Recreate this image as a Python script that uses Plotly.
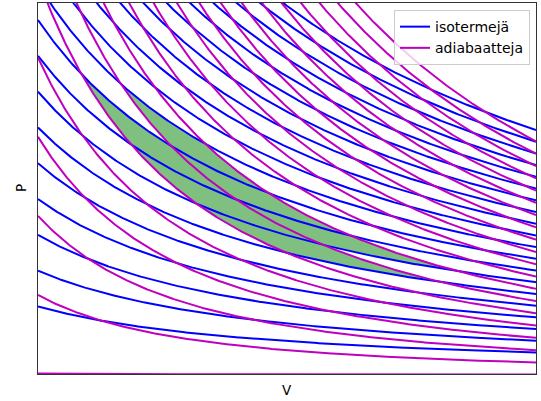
import numpy as np
import plotly.graph_objects as go

# ---- data ----
V_RANGE = [1.0, 3.058]
P_RANGE = [0.008, 3.718]
GAMMA = 5.0 / 3.0
isotherm_T = [0.683, 1.041, 1.399, 1.757, 2.115, 2.473, 2.831, 3.189, 3.547, 3.905,
              4.263, 4.621, 4.979, 5.337, 5.695, 6.053, 6.411, 6.769, 7.127, 7.485]
adiabat_K = [0.012, 0.798, 1.589, 2.380, 3.171, 3.962, 4.753, 5.544, 6.335, 7.126,
             7.917, 8.708, 9.499, 10.290, 11.081, 11.872, 12.663, 13.454, 14.245, 15.036]
# shaded cycles: (hot isotherm, cold isotherm, first adiabat, second adiabat)
cycles = [(3.547, 2.473, 3.962, 4.753),
          (3.905, 2.831, 4.753, 5.544)]
labels = ["isotermejä", "adiabaatteja"]
axis_titles = ["V", "P"]

V = np.linspace(V_RANGE[0], V_RANGE[1], 500)

fig = go.Figure()

g1 = GAMMA - 1
for Th, Tc, K1, K2 in cycles:
    Va = (K1 / Th) ** (1 / g1)
    Vb = (K2 / Th) ** (1 / g1)
    Vc = (K2 / Tc) ** (1 / g1)
    Vd = (K1 / Tc) ** (1 / g1)
    s1 = np.linspace(Va, Vb, 80)
    s2 = np.linspace(Vb, Vc, 80)
    s3 = np.linspace(Vc, Vd, 80)
    s4 = np.linspace(Vd, Va, 80)
    cx = np.concatenate([s1, s2, s3, s4])
    cy = np.concatenate([Th / s1, K2 / s2 ** GAMMA, Tc / s3, K1 / s4 ** GAMMA])
    fig.add_trace(go.Scatter(x=cx, y=cy, mode="lines", fill="toself",
                             fillcolor="rgba(0,128,0,0.5)", line=dict(width=0),
                             showlegend=False, hoverinfo="skip"))

for i, T in enumerate(isotherm_T):
    fig.add_trace(go.Scatter(x=V, y=T / V, mode="lines",
                             line=dict(color="#0000ff", width=2),
                             name=labels[0], legendgroup="iso",
                             showlegend=(i == 0)))
for i, K in enumerate(adiabat_K):
    fig.add_trace(go.Scatter(x=V, y=K / V ** GAMMA, mode="lines",
                             line=dict(color="#bf00bf", width=2),
                             name=labels[1], legendgroup="adi",
                             showlegend=(i == 0)))

fig.update_layout(
    width=541, height=401,
    margin=dict(l=37.5, r=4.5, t=3, b=27, autoexpand=False),
    paper_bgcolor="white", plot_bgcolor="white",
    font=dict(family="DejaVu Sans", size=13, color="black"),
    legend=dict(x=0.988, y=0.981, xanchor="right", yanchor="top",
                bgcolor="rgba(255,255,255,0.8)", bordercolor="#cccccc", borderwidth=1,
                font=dict(size=14), tracegroupgap=0, itemwidth=30),
    annotations=[
        dict(text=axis_titles[0], x=0.5, y=0, xref="paper", yref="paper",
             showarrow=False, font=dict(size=13.5), yanchor="middle", yshift=-16),
        dict(text=axis_titles[1], x=0, y=0.5, xref="paper", yref="paper",
             showarrow=False, font=dict(size=13.5), textangle=-90,
             xanchor="center", xshift=-17.5),
    ],
)
fig.update_xaxes(range=V_RANGE, showticklabels=False, ticks="", showgrid=False,
                 zeroline=False, showline=True, linecolor="#333", linewidth=1, mirror=True,
                 automargin=False)
fig.update_yaxes(range=P_RANGE, showticklabels=False, ticks="", showgrid=False,
                 zeroline=False, showline=True, linecolor="#333", linewidth=1, mirror=True,
                 automargin=False)

fig.write_html("out.html", config={"displayModeBar": False},
               post_script="document.body.style.margin='0';")
